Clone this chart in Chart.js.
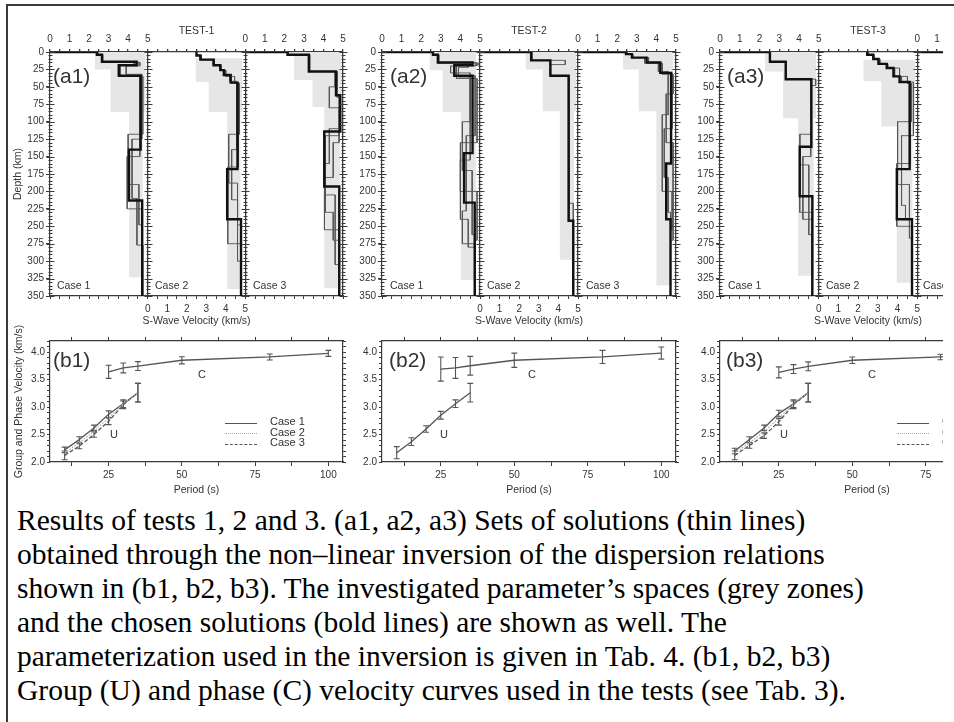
<!DOCTYPE html>
<html><head><meta charset="utf-8">
<script src="https://cdn.jsdelivr.net/npm/chart.js@4.4.1/dist/chart.umd.min.js"></script>
<style>
html,body{margin:0;padding:0;background:#fff;}
body{width:954px;height:722px;overflow:hidden;position:relative;font-family:'Liberation Sans',Arial,sans-serif;}
#frame{position:absolute;left:6px;top:4px;width:960px;height:740px;border-top:2px solid #3a3a3a;border-left:2px solid #3a3a3a;}
#fig{position:absolute;left:0;top:0;width:943px;height:500px;overflow:hidden;}
#fig canvas{position:absolute;}
.lbl{position:absolute;color:#333;white-space:nowrap;line-height:1;}
.big{font-size:21px;}
.sm{font-size:10.5px;}
.cu{font-size:11px;}
.lg{position:absolute;font-size:11px;color:#333;line-height:10.5px;white-space:nowrap;}
.lg .ln{display:inline-block;width:32px;height:0;vertical-align:middle;margin-right:13px;position:relative;top:1px;}
#caption{position:absolute;left:17px;top:503px;font-family:'Liberation Serif','Times New Roman',serif;font-size:29.5px;line-height:34px;color:#000;}
#caption div{white-space:nowrap;}
</style></head>
<body>
<div id="frame"></div>
<div id="fig">
  <canvas id="d1" width="350" height="335" style="left:0;top:0"></canvas>
  <canvas id="d2" width="342" height="335" style="left:340px;top:0"></canvas>
  <canvas id="d3" width="344" height="335" style="left:678px;top:0"></canvas>
  <canvas id="b1" width="352" height="200" style="left:0;top:300px"></canvas>
  <canvas id="b2" width="345" height="200" style="left:340px;top:300px"></canvas>
  <canvas id="b3" width="345" height="200" style="left:678px;top:300px"></canvas>

  <div class="lbl big" style="left:53px;top:65px">(a1)</div>
  <div class="lbl big" style="left:390px;top:65px">(a2)</div>
  <div class="lbl big" style="left:727px;top:65px">(a3)</div>
  <div class="lbl big" style="left:53px;top:349px">(b1)</div>
  <div class="lbl big" style="left:389px;top:349px">(b2)</div>
  <div class="lbl big" style="left:726px;top:349px">(b3)</div>

  <div class="lbl sm" style="left:57px;top:280px">Case 1</div>
  <div class="lbl sm" style="left:155px;top:280px">Case 2</div>
  <div class="lbl sm" style="left:253px;top:280px">Case 3</div>
  <div class="lbl sm" style="left:390px;top:280px">Case 1</div>
  <div class="lbl sm" style="left:487px;top:280px">Case 2</div>
  <div class="lbl sm" style="left:586px;top:280px">Case 3</div>
  <div class="lbl sm" style="left:728px;top:280px">Case 1</div>
  <div class="lbl sm" style="left:826px;top:280px">Case 2</div>
  <div class="lbl sm" style="left:923px;top:280px">Case 3</div>

  <div class="lbl cu" style="left:198px;top:369px">C</div>
  <div class="lbl cu" style="left:110px;top:429px">U</div>
  <div class="lbl cu" style="left:528px;top:369px">C</div>
  <div class="lbl cu" style="left:440px;top:429px">U</div>
  <div class="lbl cu" style="left:868px;top:369px">C</div>
  <div class="lbl cu" style="left:780px;top:429px">U</div>

  <div class="lg" style="left:225px;top:416px">
    <div><span class="ln" style="border-top:1.5px solid #555"></span>Case 1</div>
    <div><span class="ln" style="border-top:1.5px dotted #aaa"></span>Case 2</div>
    <div><span class="ln" style="border-top:1.5px dashed #555"></span>Case 3</div>
  </div>
  <div class="lg" style="left:897px;top:416px">
    <div><span class="ln" style="border-top:1.5px solid #555"></span>Case 1</div>
    <div><span class="ln" style="border-top:1.5px dotted #aaa"></span>Case 2</div>
    <div><span class="ln" style="border-top:1.5px dashed #555"></span>Case 3</div>
  </div>
</div>
<div id="caption">
<div>Results of tests 1, 2 and 3. (a1, a2, a3) Sets of solutions (thin lines)</div>
<div>obtained through the non–linear inversion of the dispersion relations</div>
<div>shown in (b1, b2, b3). The investigated parameter’s spaces (grey zones)</div>
<div>and the chosen solutions (bold lines) are shown as well. The</div>
<div>parameterization used in the inversion is given in Tab. 4. (b1, b2, b3)</div>
<div>Group (U) and phase (C) velocity curves used in the tests (see Tab. 3).</div>
</div>

<script>
// ---------------- DATA ----------------
const testTitles = ['TEST-1', 'TEST-2', 'TEST-3'];
const depthTitle = 'Depth (km)';
const velTitle = 'S-Wave Velocity (km/s)';
const periodTitle = 'Period (s)';
const dispTitle = 'Group and Phase Velocity (km/s)';
const periodTicks = [12.5, 25, 37.5, 50, 62.5, 75, 87.5, 100];

// Shear-wave profiles: [layer bottom depth (km), Vs (km/s)]
// Grey zones: [top depth, bottom depth, Vs min, Vs max]
// ---- TEST-1 ----
const t1c1Bold = [[0,0],[4,2.4],[14,2.66],[19,4.43],[34,3.52],[140,4.64],[213,4.04],[350,4.72]];
const t1c1ThinA = [[0,0],[4,2.4],[14,2.7],[19,4.3],[35,3.6],[118,4.75],[190,4.0],[248,4.55],[350,4.72]];
const t1c1ThinB = [[0,0],[5,2.45],[15,2.65],[20,4.6],[32,3.9],[125,4.7],[210,4.2],[277,4.45],[350,4.75]];
const t1c1ThinC = [[0,0],[4,2.4],[14,2.66],[19,4.5],[34,3.52],[150,4.6],[225,3.95],[250,4.7],[350,4.72]];
const t1c1Grey = [[0,25,2.3,4.9],[25,86,3.1,4.9],[86,323,4.05,4.75]];

const t1c2Bold = [[5,2.5],[11,2.7],[19,3.38],[26,3.72],[33,3.9],[44,4.25],[168,4.6],[240,4.07],[350,4.78]];
const t1c2ThinA = [[5,2.5],[11,2.75],[19,3.4],[26,3.7],[35,4.0],[45,4.45],[118,4.7],[188,4.15],[248,4.6],[350,4.78]];
const t1c2ThinB = [[5,2.5],[11,2.7],[19,3.35],[26,3.75],[33,3.95],[42,4.2],[140,4.55],[212,4.3],[300,4.6],[350,4.78]];
const t1c2ThinC = [[5,2.5],[11,2.7],[19,3.38],[26,3.72],[33,3.9],[44,4.25],[165,4.65],[275,4.1],[350,4.78]];
const t1c2Grey = [[9,43,2.45,4.85],[43,86,3.13,4.85],[86,340,4.07,4.75]];

const t1c3Bold = [[0,0],[4,2.16],[28,3.25],[62,4.64],[114,4.86],[193,4.04],[350,4.81]];
const t1c3ThinA = [[0,0],[4,2.16],[28,3.25],[50,4.6],[80,4.3],[120,4.8],[205,4.1],[305,4.6],[350,4.81]];
const t1c3ThinB = [[0,0],[4,2.16],[28,3.3],[65,4.7],[110,4.85],[160,4.3],[255,4.05],[350,4.8]];
const t1c3ThinC = [[0,0],[4,2.2],[28,3.25],[62,4.64],[130,4.8],[180,4.5],[230,4.1],[270,4.5],[350,4.81]];
const t1c3Grey = [[0,40,2.49,4.9],[40,79,3.44,4.9],[79,339,4.04,4.85]];

// ---- TEST-2 ----
const t2c1Bold = [[0,0],[4,2.6],[15,2.85],[19,4.62],[34,3.69],[145,4.62],[216,4.19],[350,4.73]];
const t2c1ThinA = [[0,0],[4,2.6],[15,2.9],[20,4.8],[30,3.5],[100,4.5],[170,4.1],[262,4.6],[350,4.73]];
const t2c1ThinB = [[0,0],[4,2.6],[16,2.85],[19,4.9],[38,3.8],[130,4.85],[240,4.0],[280,4.4],[350,4.73]];
const t2c1ThinC = [[0,0],[4,2.6],[15,2.85],[19,4.62],[34,3.69],[120,4.75],[228,4.3],[275,4.1],[350,4.73]];
const t2c1ThinD = [[0,0],[4,2.6],[15,2.85],[22,4.4],[36,3.9],[155,4.5],[200,4.0],[270,4.85],[350,4.73]];
const t2c1Grey = [[0,26,2.42,4.8],[26,86,3.1,4.8],[86,327,4.02,4.8]];

const t2c2Bold = [[0,0],[12,2.61],[34,3.59],[242,4.52],[350,4.76]];
const t2c2ThinA = [[0,0],[12,2.61],[18,4.35],[34,3.6],[217,4.55],[350,4.76]];
const t2c2ThinB = [[0,0],[12,2.65],[34,3.59],[242,4.55],[350,4.76]];
const t2c2Grey = [[0,25,2.32,4.9],[25,85,3.2,4.9],[85,298,4.07,4.8]];

const t2c3Bold = [[0,0],[3,2.45],[8,2.75],[15,3.5],[30,4.2],[160,4.75],[240,4.5],[350,4.72]];
const t2c3ThinA = [[0,0],[3,2.45],[8,2.75],[16,3.4],[32,4.3],[60,4.85],[130,4.5],[270,4.85],[350,4.72]];
const t2c3ThinB = [[0,0],[3,2.5],[8,2.8],[15,3.6],[28,4.1],[90,4.6],[200,4.3],[255,4.8],[350,4.72]];
const t2c3ThinC = [[0,0],[3,2.45],[8,2.75],[15,3.5],[30,4.2],[110,4.8],[180,4.4],[230,4.6],[350,4.72]];
const t2c3Grey = [[0,25,2.3,4.85],[25,85,3.1,4.85],[85,335,4.0,4.8]];

// ---- TEST-3 ----
const t3c1Bold = [[0,0],[14,2.53],[39,3.33],[136,4.63],[207,4.04],[350,4.68]];
const t3c1ThinA = [[0,0],[14,2.53],[39,3.33],[48,4.85],[118,4.6],[162,4.05],[262,4.5],[350,4.68]];
const t3c1ThinB = [[0,0],[14,2.53],[39,3.33],[136,4.63],[230,4.04],[350,4.68]];
const t3c1ThinC = [[0,0],[14,2.53],[38,3.35],[150,4.6],[240,4.2],[350,4.68]];
const t3c1Grey = [[0,28,2.27,4.88],[28,95,3.2,4.88],[95,321,3.96,4.75]];

const t3c2Bold = [[4,2.46],[10,2.77],[17,3.03],[23,3.45],[35,3.79],[43,4.1],[168,4.61],[240,3.96],[350,4.73]];
const t3c2ThinA = [[4,2.5],[10,2.8],[17,3.1],[23,3.5],[35,4.1],[45,4.5],[100,4.7],[190,4.0],[267,4.6],[350,4.73]];
const t3c2ThinB = [[4,2.46],[10,2.77],[17,3.03],[23,3.45],[35,3.79],[43,4.2],[120,4.8],[220,4.2],[240,4.4],[350,4.73]];
const t3c2ThinC = [[4,2.46],[10,2.77],[17,3.03],[23,3.45],[35,3.85],[43,4.1],[160,4.65],[250,3.96],[350,4.73]];
const t3c2Grey = [[11,42,2.26,4.9],[42,107,3.18,4.9],[107,331,3.96,4.75]];

const t3c3Bold = [[0,0],[5,2.2],[30,3.3],[350,4.7]];
const t3c3Grey = [[0,25,2.3,4.9],[25,90,3.2,4.9],[90,330,4.0,4.8]];

// ---- Dispersion curves ----
const periodsU = [10, 15, 20, 25, 30, 35];
const periodsC = [25, 30, 35, 50, 80, 100];
const b1UCase1 = [2.22, 2.41, 2.62, 2.87, 3.06, 3.26];
const b1UCase1Err = [0.05, 0.05, 0.05, 0.06, 0.07, 0.17];
const b1UCase2 = [2.16, 2.35, 2.56, 2.80, 3.05, 3.26];
const b1UCase3 = [2.12, 2.29, 2.50, 2.74, 3.04, 3.26];
const b1UCase3Err = [0.08, 0.05, 0.05, 0.06, 0.07, 0.17];
const b1C = [3.64, 3.71, 3.745, 3.85, 3.91, 3.975];
const b1CErr = [0.12, 0.09, 0.08, 0.065, 0.055, 0.055];
const b2U = [2.17, 2.37, 2.60, 2.85, 3.06, 3.26];
const b2UErr = [0.11, 0.07, 0.06, 0.07, 0.07, 0.17];
const b2C = [3.69, 3.71, 3.75, 3.85, 3.91, 3.98];
const b2CErr = [0.22, 0.19, 0.17, 0.13, 0.12, 0.11];
const b3UCase1 = [2.20, 2.41, 2.62, 2.88, 3.06, 3.26];
const b3UCase1Err = [0.05, 0.05, 0.05, 0.06, 0.07, 0.17];
const b3UCase2 = [2.16, 2.35, 2.55, 2.80, 3.05, 3.26];
const b3UCase3 = [2.12, 2.30, 2.48, 2.73, 3.04, 3.26];
const b3UCase3Err = [0.08, 0.05, 0.05, 0.06, 0.07, 0.17];
const b3C = [3.63, 3.69, 3.74, 3.85, 3.91, 3.97];
const b3CErr = [0.10, 0.08, 0.08, 0.06, 0.05, 0.05];

// ---------------- HELPERS ----------------
const AX = '#3a3a3a';
const CASE_SPAN = 5;
Chart.defaults.font.family = "'Liberation Sans', Arial, sans-serif";
Chart.defaults.font.size = 10;
Chart.defaults.color = '#333';
Chart.defaults.animation = false;
Chart.defaults.elements.point.radius = 0;
Chart.defaults.elements.line.tension = 0;
Chart.defaults.plugins.legend.display = false;
Chart.defaults.plugins.tooltip.enabled = false;

function stepLine(layers, off) {
  const pts = []; let top = 0;
  layers.forEach(([d, v]) => { pts.push({x: off + v, y: top}, {x: off + v, y: d}); top = d; });
  return pts;
}
function greyEdge(layers, off) {
  const pts = [];
  layers.forEach((L, i) => {
    const next = layers[i + 1];
    const xEnd = next ? next[2] : L[3];
    pts.push({x: off + L[2], y: L[1]}, {x: off + xEnd, y: L[1]});
  });
  for (let i = layers.length - 1; i > 0; i--) {
    if (layers[i - 1][3] > layers[i][3]) {
      pts.push({x: off + layers[i][3], y: layers[i - 1][1]}, {x: off + layers[i - 1][3], y: layers[i - 1][1]});
    }
  }
  return pts;
}
function isInt(v) { return Math.abs(v - Math.round(v)) < 1e-9; }

const sepTicks = {
  id: 'sepTicks',
  afterDatasetsDraw(chart) {
    const o = chart.options.plugins.sepTicks;
    if (!o || !o.at) return;
    const {ctx} = chart; const x = chart.scales.x, y = chart.scales.y;
    ctx.save(); ctx.strokeStyle = AX; ctx.lineWidth = 1;
    for (const s of o.at) {
      const px = Math.round(x.getPixelForValue(s)) + 0.5;
      for (let d = y.min; d <= y.max + 1e-9; d += o.minor) {
        const py = Math.round(y.getPixelForValue(d)) + 0.5;
        const len = (d % o.major === 0) ? 4 : 2;
        ctx.beginPath(); ctx.moveTo(px - len, py); ctx.lineTo(px + len, py); ctx.stroke();
      }
    }
    ctx.restore();
  }
};

function makeDepth(id, cfg) {
  const datasets = [];
  cfg.panels.forEach((p, k) => {
    const off = k * CASE_SPAN;
    datasets.push({data: stepLine(p.bold, off), borderColor: '#111', borderWidth: 2.4, order: 0, xAxisID: 'x', yAxisID: 'y'});
    p.thin.forEach(t => datasets.push({data: stepLine(t, off), borderColor: '#555', borderWidth: 0.9, order: 1, xAxisID: 'x', yAxisID: 'y'}));
    datasets.push({data: greyEdge(p.grey, off), borderWidth: 0, borderColor: 'rgba(0,0,0,0)', backgroundColor: '#e6e6e6',
      fill: {value: p.grey[0][0]}, order: 2, xAxisID: 'x', yAxisID: 'y'});
  });
  const span = CASE_SPAN * 3;
  new Chart(document.getElementById(id), {
    type: 'line',
    data: {datasets},
    plugins: [sepTicks],
    options: {
      responsive: false, animation: false,
      layout: {padding: {left: 0, top: 0, bottom: 0, right: cfg.padRight}},
      plugins: {legend: {display: false}, sepTicks: {at: [0, 5, 10, 15], minor: 5, major: 25}},
      scales: {
        x: {type: 'linear', position: 'top', min: 0, max: span,
          ticks: {stepSize: 0.5, autoSkip: false, maxRotation: 0, padding: 4, color: '#333',
            callback: v => !isInt(v) ? '' : (v <= CASE_SPAN ? String(v) : (v >= 2 * CASE_SPAN ? String(v - 2 * CASE_SPAN) : ''))},
          grid: {drawOnChartArea: true, lineWidth: 1.3, tickLength: 3, tickColor: AX,
            color: c => (c.tick && isInt(c.tick.value) && Math.round(c.tick.value) % CASE_SPAN === 0 && c.tick.value > 0) ? AX : 'rgba(0,0,0,0)'},
          border: {display: true, color: AX, width: 1.2},
          title: {display: true, text: cfg.title, color: '#333', font: {size: 10.5}, padding: {top: 25, bottom: 0}},
          afterFit: s => { s.height = 52; s.paddingLeft = 0; s.paddingRight = 0; }
        },
        x2: {type: 'linear', position: 'bottom', min: 0, max: span,
          ticks: {stepSize: 0.5, autoSkip: false, maxRotation: 0, padding: 4, color: '#333',
            callback: v => (isInt(v) && v >= CASE_SPAN && v <= 2 * CASE_SPAN) ? String(v - CASE_SPAN) : ''},
          grid: {drawOnChartArea: false, tickLength: 3, tickColor: AX},
          border: {display: true, color: AX, width: 1.2},
          title: {display: true, text: velTitle, color: '#333', font: {size: 10.5}, padding: {top: 0, bottom: 8}},
          afterFit: s => { s.height = 39; s.paddingLeft = 0; s.paddingRight = 0; }
        },
        y: {type: 'linear', position: 'left', reverse: true, min: 0, max: 350,
          ticks: {stepSize: 25, padding: 2, color: '#333'},
          grid: {drawOnChartArea: false, tickLength: 4, tickColor: AX},
          border: {display: true, color: AX, width: 1.2},
          title: {display: !!cfg.depthTitle, text: depthTitle, color: '#333', font: {size: 10.5}, padding: {top: 12, bottom: 0}},
          afterFit: s => { s.width = cfg.yWidth; s.paddingTop = 0; s.paddingBottom = 0; }
        }
      }
    }
  });
}

function errBars(xs, ys, es, cap) {
  const pts = [];
  xs.forEach((x, i) => {
    const lo = ys[i] - es[i], hi = ys[i] + es[i];
    pts.push({x, y: lo}, {x, y: hi}, {x, y: null},
             {x: x - cap, y: hi}, {x: x + cap, y: hi}, {x, y: null},
             {x: x - cap, y: lo}, {x: x + cap, y: lo}, {x, y: null});
  });
  return pts;
}
function xy(xs, ys) { return xs.map((x, i) => ({x, y: ys[i]})); }

function makeDisp(id, cfg) {
  const ds = [];
  const line = (data, extra) => ds.push(Object.assign({data, borderColor: '#555', borderWidth: 1.3, spanGaps: false, xAxisID: 'x', yAxisID: 'y'}, extra || {}));
  line(xy(periodsC, cfg.c));
  line(errBars(periodsC, cfg.c, cfg.cErr, 1), {borderWidth: 1.1});
  cfg.u.forEach(u => {
    line(xy(periodsU, u.v), u.style);
    if (u.err) line(errBars(periodsU, u.v, u.err, 1), {borderWidth: 1.1});
  });
  new Chart(document.getElementById(id), {
    type: 'line',
    data: {datasets: ds},
    options: {
      responsive: false, animation: false,
      layout: {padding: {left: 0, top: 0, bottom: 0, right: 3}},
      plugins: {legend: {display: false}},
      scales: {
        x: {type: 'linear', position: 'bottom', min: 5, max: 105,
          afterBuildTicks: s => { s.ticks = periodTicks.map(v => ({value: v})); },
          ticks: {autoSkip: false, maxRotation: 0, padding: 3, color: '#333', callback: v => (v % 25 === 0) ? String(v) : ''},
          grid: {drawOnChartArea: false, tickLength: 4, tickColor: AX},
          border: {display: true, color: AX, width: 1.2},
          title: {display: true, text: periodTitle, color: '#333', font: {size: 10.5}, padding: {top: 0, bottom: 4}},
          afterFit: s => { s.height = 38; s.paddingLeft = 0; s.paddingRight = 0; }
        },
        x2: {type: 'linear', position: 'top', min: 5, max: 105,
          afterBuildTicks: s => { s.ticks = periodTicks.map(v => ({value: v})); },
          ticks: {display: false},
          grid: {drawOnChartArea: false, tickLength: 4, tickColor: AX},
          border: {display: true, color: AX, width: 1.2},
          afterFit: s => { s.height = 41; s.paddingLeft = 0; s.paddingRight = 0; }
        },
        y: {type: 'linear', position: 'left', min: 2.0, max: 4.2,
          ticks: {stepSize: 0.1, autoSkip: false, padding: 2, color: '#333',
            callback: v => { const r = Math.round(v * 10); return r % 5 === 0 ? (r / 10).toFixed(1) : ''; }},
          grid: {drawOnChartArea: false, tickLength: 3, tickColor: AX},
          border: {display: true, color: AX, width: 1.2},
          title: {display: !!cfg.yTitle, text: dispTitle, color: '#333', font: {size: 10.5}, padding: {top: 13, bottom: 0}},
          afterFit: s => { s.width = cfg.yWidth; s.paddingTop = 0; s.paddingBottom = 0; }
        },
        y2: {type: 'linear', position: 'right', min: 2.0, max: 4.2,
          ticks: {display: false, stepSize: 0.1},
          grid: {drawOnChartArea: false, tickLength: 3, tickColor: AX},
          border: {display: true, color: AX, width: 1.2},
          afterFit: s => { s.width = 6; s.paddingTop = 0; s.paddingBottom = 0; }
        }
      }
    }
  });
}

// ---------------- CHARTS ----------------
makeDepth('d1', {title: testTitles[0], depthTitle: true, yWidth: 50, padRight: 7, panels: [
  {bold: t1c1Bold, thin: [t1c1ThinA, t1c1ThinB, t1c1ThinC], grey: t1c1Grey},
  {bold: t1c2Bold, thin: [t1c2ThinA, t1c2ThinB, t1c2ThinC], grey: t1c2Grey},
  {bold: t1c3Bold, thin: [t1c3ThinA, t1c3ThinB, t1c3ThinC], grey: t1c3Grey}]});
makeDepth('d2', {title: testTitles[1], depthTitle: false, yWidth: 42, padRight: 6, panels: [
  {bold: t2c1Bold, thin: [t2c1ThinA, t2c1ThinB, t2c1ThinC, t2c1ThinD], grey: t2c1Grey},
  {bold: t2c2Bold, thin: [t2c2ThinA, t2c2ThinB], grey: t2c2Grey},
  {bold: t2c3Bold, thin: [t2c3ThinA, t2c3ThinB, t2c3ThinC], grey: t2c3Grey}]});
makeDepth('d3', {title: testTitles[2], depthTitle: false, yWidth: 42, padRight: 6, panels: [
  {bold: t3c1Bold, thin: [t3c1ThinA, t3c1ThinB, t3c1ThinC], grey: t3c1Grey},
  {bold: t3c2Bold, thin: [t3c2ThinA, t3c2ThinB, t3c2ThinC], grey: t3c2Grey},
  {bold: t3c3Bold, thin: [], grey: t3c3Grey}]});

const dotted = {borderColor: '#aaa', borderDash: [1.5, 1.5], borderWidth: 1.2};
const dashed = {borderDash: [4, 2]};
makeDisp('b1', {yTitle: true, yWidth: 50, c: b1C, cErr: b1CErr, u: [
  {v: b1UCase2, style: dotted},
  {v: b1UCase3, err: b1UCase3Err, style: dashed},
  {v: b1UCase1, err: b1UCase1Err}]});
makeDisp('b2', {yTitle: false, yWidth: 42, c: b2C, cErr: b2CErr, u: [
  {v: b2U, err: b2UErr}]});
makeDisp('b3', {yTitle: false, yWidth: 42, c: b3C, cErr: b3CErr, u: [
  {v: b3UCase2, style: dotted},
  {v: b3UCase3, err: b3UCase3Err, style: dashed},
  {v: b3UCase1, err: b3UCase1Err}]});
</script>
</body></html>
